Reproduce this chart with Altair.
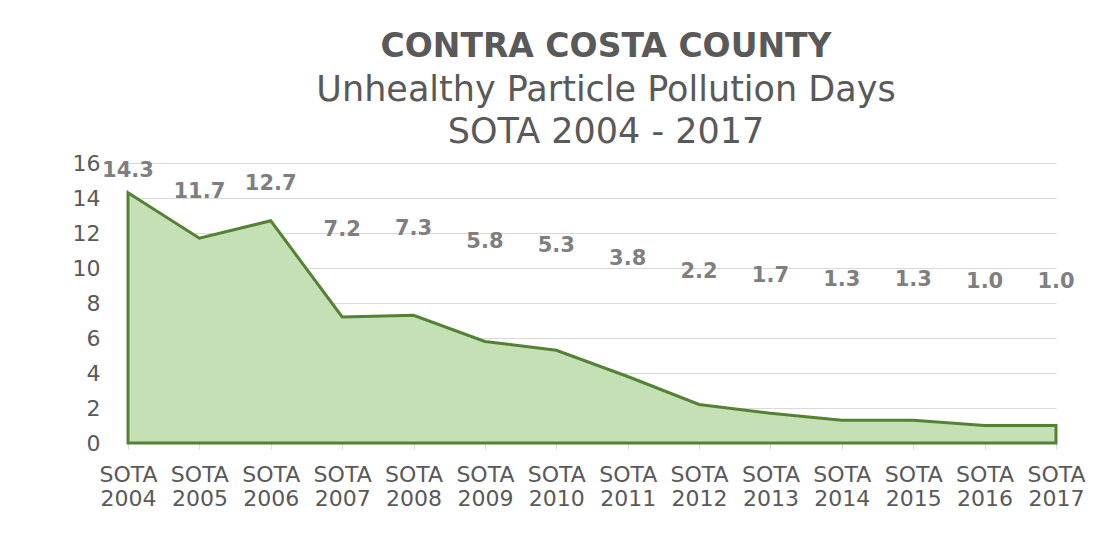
import altair as alt
import pandas as pd

periods = ["SOTA 2004", "SOTA 2005", "SOTA 2006", "SOTA 2007", "SOTA 2008",
           "SOTA 2009", "SOTA 2010", "SOTA 2011", "SOTA 2012", "SOTA 2013",
           "SOTA 2014", "SOTA 2015", "SOTA 2016", "SOTA 2017"]
days = [14.3, 11.7, 12.7, 7.2, 7.3, 5.8, 5.3, 3.8, 2.2, 1.7, 1.3, 1.3, 1.0, 1.0]
y_ticks = [0, 2, 4, 6, 8, 10, 12, 14, 16]

df = pd.DataFrame({"period": periods, "days": days})

y_scale = alt.Scale(domain=[0, 16], nice=False)
x_scale = alt.Scale(padding=0)

x_axis = alt.Axis(labelAngle=0, labelExpr="split(datum.label, ' ')",
                  labelFont="DejaVu Sans", labelFontSize=22, labelColor="#595959",
                  labelLineHeight=24, labelPadding=15, labelOverlap=False,
                  domainColor="#d9d9d9", tickColor="#d9d9d9", tickSize=6,
                  grid=False)
y_axis = alt.Axis(values=y_ticks, domain=False, ticks=False,
                  labelOverlap=False,
                  labelFont="DejaVu Sans", labelFontSize=22,
                  labelColor="#595959", labelPadding=28,
                  gridColor="#d9d9d9", gridWidth=1)

area = alt.Chart(df).mark_area(
    color="#c5e0b4", opacity=1, line=False,
    stroke="#548235", strokeWidth=3, strokeJoin="miter"
).encode(
    x=alt.X("period:N", sort=None, title=None, scale=x_scale, axis=x_axis),
    y=alt.Y("days:Q", scale=y_scale, title=None, axis=y_axis),
)

labels = alt.Chart(df).transform_calculate(
    label_y="datum.days*0.48 + 8.7"
).mark_text(
    font="DejaVu Sans", fontWeight="bold", fontSize=21, color="#7f7f7f",
    baseline="middle", align="center"
).encode(
    x=alt.X("period:N", sort=None, title=None, scale=x_scale, axis=x_axis),
    y=alt.Y("label_y:Q", scale=y_scale, title=None, axis=y_axis),
    text=alt.Text("days:Q", format=".1f"),
)

chart = alt.layer(area, labels).properties(
    width=928, height=280,
    autosize=alt.AutoSizeParams(type="none"),
    padding={"left": 120, "top": 155, "right": 30, "bottom": 80},
    title=alt.TitleParams(
        text="CONTRA COSTA COUNTY",
        subtitle=["Unhealthy Particle Pollution Days", "SOTA 2004 - 2017"],
        anchor="middle", frame="group", dx=14, offset=2,
        font="DejaVu Sans", fontSize=33, fontWeight="bold", color="#595959",
        subtitleFont="DejaVu Sans", subtitleFontSize=35, subtitleColor="#595959",
        subtitleLineHeight=42, subtitlePadding=9,
    ),
).configure(background="white").configure_view(stroke=None)

chart.save("out.html", embed_options={"renderer": "svg", "actions": False})
